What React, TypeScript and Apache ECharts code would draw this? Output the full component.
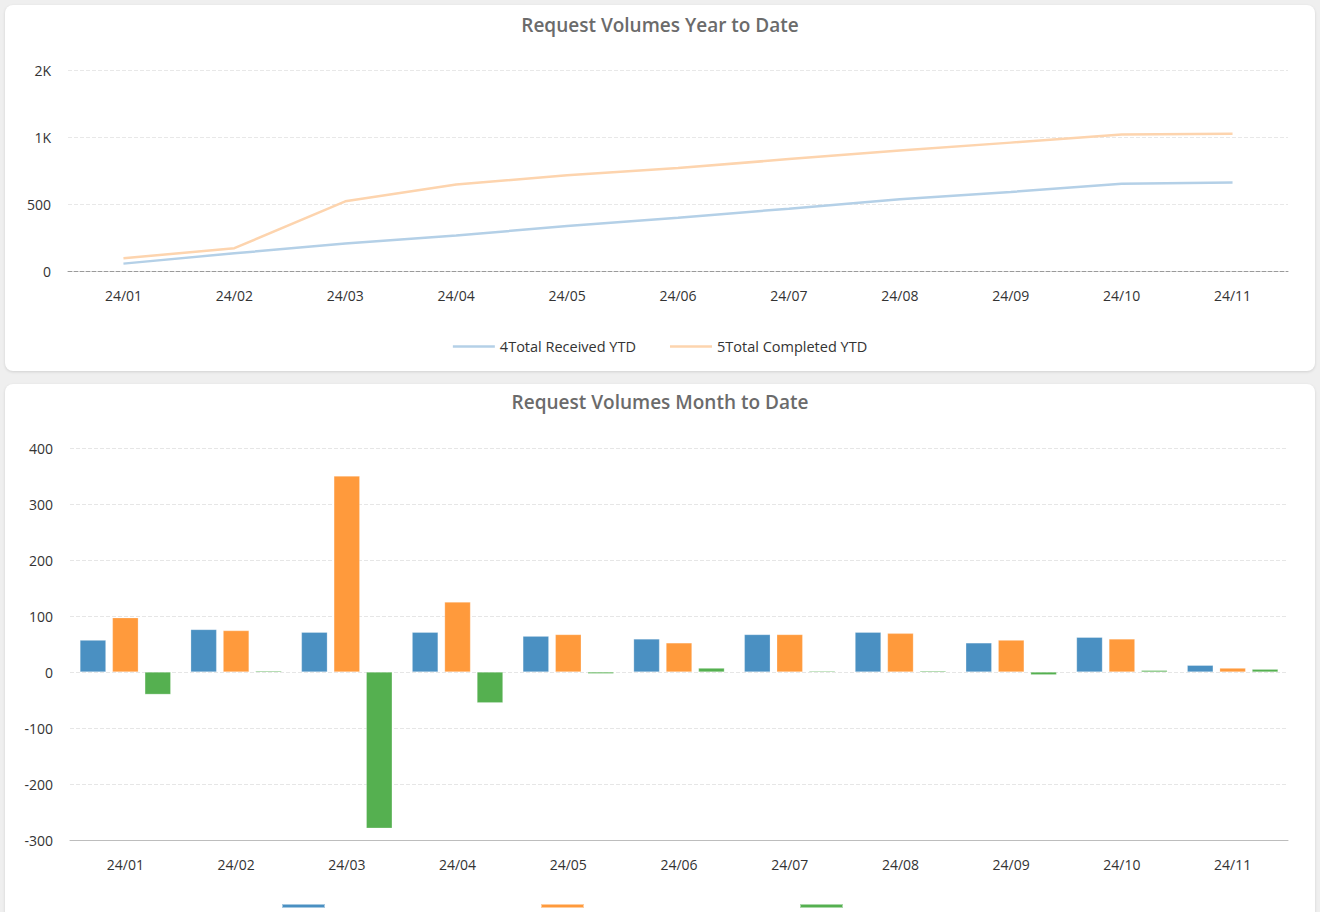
import React, { useEffect, useRef } from "react";
import * as echarts from "echarts";

const months = ["24/01", "24/02", "24/03", "24/04", "24/05", "24/06", "24/07", "24/08", "24/09", "24/10", "24/11"];

const receivedYTD = [55, 132, 205, 265, 335, 398, 465, 535, 590, 652, 660];
const completedYTD = [95, 170, 520, 645, 715, 768, 835, 900, 958, 1018, 1025];

const receivedMTD = [57, 76, 71, 71, 64, 59, 67, 71, 52, 62, 12];
const completedMTD = [97, 74, 350, 125, 67, 52, 67, 69, 57, 59, 7];
const netMTD = [-40, 2, -279, -55, -3, 7, 0, 2, -5, 3, 5];

const ytdNames = ["4Total Received YTD", "5Total Completed YTD"];
const mtdNames = ["1Total Received", "2Total Completed", "3Net Change"];

const FONT = "'Open Sans', 'Noto Sans', sans-serif";

const cardStyle: React.CSSProperties = {
  position: "absolute",
  left: 5,
  width: 1310,
  background: "#fff",
  borderRadius: 8,
  boxShadow: "0 1px 3px rgba(0,0,0,0.13)",
  overflow: "hidden",
};

function useChart(option: any) {
  const ref = useRef<HTMLDivElement>(null);
  useEffect(() => {
    if (!ref.current) return;
    const chart = echarts.init(ref.current, undefined, { renderer: "svg" });
    chart.setOption(option);
    return () => chart.dispose();
  }, []);
  return ref;
}

function YtdChart() {
  const option = {
    animation: false,
    textStyle: { fontFamily: FONT },
    title: {
      text: "Request Volumes Year to Date",
      left: "center",
      top: 5,
      textStyle: { fontFamily: FONT, fontSize: 19, fontWeight: 600, color: "#6b6b6b" },
    },
    grid: { left: 63, right: 27, top: 65, bottom: 100 },
    legend: {
      bottom: 12,
      left: "center",
      icon: "rect",
      itemWidth: 42,
      itemHeight: 2.5,
      itemGap: 34,
      data: ytdNames,
      textStyle: { fontFamily: FONT, fontSize: 14.5, color: "#333" },
    },
    xAxis: {
      type: "category",
      data: months,
      boundaryGap: true,
      axisLine: { lineStyle: { color: "#9a9a9a", type: "dashed", width: 1 } },
      axisTick: { alignWithLabel: true, length: 5, lineStyle: { color: "#9a9a9a" } },
      axisLabel: { margin: 17, fontSize: 14, color: "#333", fontFamily: FONT },
    },
    yAxis: {
      type: "value",
      min: 0,
      max: 1500,
      interval: 500,
      axisLine: { show: false },
      axisTick: { show: false },
      axisLabel: {
        margin: 17,
        fontSize: 14,
        color: "#333",
        fontFamily: FONT,
        formatter: (v: number) => (v >= 1000 ? Math.round(v / 1000) + "K" : String(v)),
      },
      splitLine: { lineStyle: { color: "#e8e8e8", type: "dashed" } },
    },
    series: [
      {
        name: ytdNames[0],
        type: "line",
        data: receivedYTD,
        symbol: "none",
        lineStyle: { color: "#b4d0e7", width: 2.5 },
        itemStyle: { color: "#b4d0e7" },
      },
      {
        name: ytdNames[1],
        type: "line",
        data: completedYTD,
        symbol: "none",
        lineStyle: { color: "#fdd4ae", width: 2.5 },
        itemStyle: { color: "#fdd4ae" },
      },
    ],
  };
  const ref = useChart(option);
  return <div ref={ref} style={{ width: 1310, height: 366 }} />;
}

function MtdChart() {
  const colors = ["#4a90c2", "#ff9a3c", "#55b050"];
  const mk = (name: string, data: number[], color: string) => ({
    name,
    type: "bar",
    data,
    barGap: "25%",
    barCategoryGap: "18%",
    barMinHeight: 1,
    itemStyle: { color, borderColor: "rgba(255,255,255,0.5)", borderWidth: 0.5 },
  });
  const option = {
    animation: false,
    textStyle: { fontFamily: FONT },
    title: {
      text: "Request Volumes Month to Date",
      left: "center",
      top: 3,
      textStyle: { fontFamily: FONT, fontSize: 19, fontWeight: 600, color: "#6b6b6b" },
    },
    grid: { left: 65, right: 27, top: 64, bottom: 84 },
    legend: {
      top: 514,
      left: 271,
      icon: "rect",
      itemWidth: 43,
      itemHeight: 4,
      itemGap: 214,
      data: mtdNames,
      formatter: () => "",
      textStyle: { fontFamily: FONT, fontSize: 1, color: "#333" },
    },
    xAxis: {
      type: "category",
      data: months,
      axisLine: { onZero: false, lineStyle: { color: "#bdbdbd", width: 1 } },
      axisTick: { alignWithLabel: true, length: 5, lineStyle: { color: "#9a9a9a" } },
      axisLabel: { margin: 17, fontSize: 14, color: "#333", fontFamily: FONT },
    },
    yAxis: {
      type: "value",
      min: -300,
      max: 400,
      interval: 100,
      axisLine: { show: false },
      axisTick: { show: false },
      axisLabel: { margin: 17, fontSize: 14, color: "#333", fontFamily: FONT },
      splitLine: { lineStyle: { color: "#e6e6e6", type: "dashed" } },
    },
    series: [
      mk(mtdNames[0], receivedMTD, colors[0]),
      mk(mtdNames[1], completedMTD, colors[1]),
      mk(mtdNames[2], netMTD, colors[2]),
    ],
  };
  const ref = useChart(option);
  return <div ref={ref} style={{ width: 1310, height: 540 }} />;
}

export default function App() {
  return (
    <div
      style={{
        position: "fixed",
        left: 0,
        top: 0,
        width: 1320,
        height: 912,
        background: "#efefef",
        overflow: "hidden",
      }}
    >
      <div style={{ ...cardStyle, top: 5, height: 366 }}>
        <YtdChart />
      </div>
      <div style={{ ...cardStyle, top: 384, height: 540 }}>
        <MtdChart />
      </div>
    </div>
  );
}
